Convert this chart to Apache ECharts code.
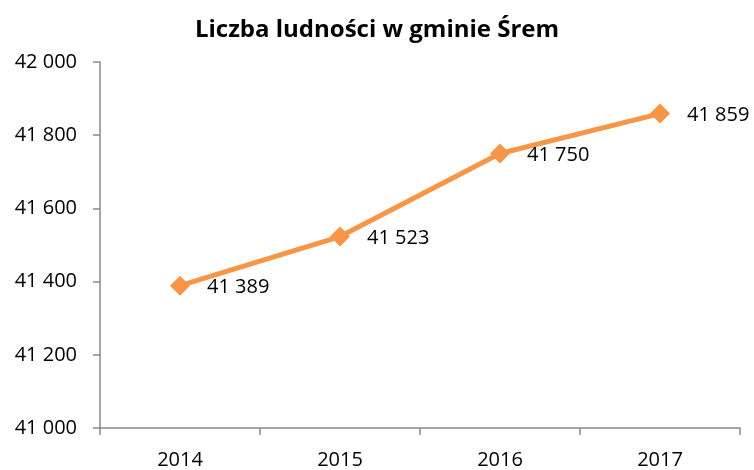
<!DOCTYPE html>
<html><head><meta charset="utf-8">
<script src="https://cdn.jsdelivr.net/npm/echarts@6/dist/echarts.min.js"></script>
<style>html,body{margin:0;padding:0;background:#fff}#c{width:754px;height:470px}</style>
</head><body><div id="c"></div>
<script>
const categories = ['2014', '2015', '2016', '2017'];
const population = [41389, 41523, 41750, 41859];
const fmt = v => String(v).replace(/\B(?=(\d{3})+(?!\d))/g, ' ');
const chart = echarts.init(document.getElementById('c'));
chart.setOption({
  animation: false,
  backgroundColor: '#fff',
  title: {
    text: 'Liczba ludności w gminie Śrem',
    left: 'center', top: 13,
    textStyle: { fontFamily: 'Open Sans', fontWeight: 'bold', fontSize: 24, color: '#000' }
  },
  grid: { left: 100, right: 14, top: 62, bottom: 42 },
  xAxis: {
    type: 'category', data: categories, boundaryGap: true,
    axisLine: { lineStyle: { color: '#898989', width: 1.5 } },
    axisTick: { show: true, length: 7, lineStyle: { color: '#898989', width: 1.5 } },
    axisLabel: { margin: 22, fontFamily: 'Open Sans', fontSize: 20, color: '#000' }
  },
  yAxis: {
    type: 'value', min: 41000, max: 42000, interval: 200,
    axisLine: { show: true, lineStyle: { color: '#898989', width: 1.5 } },
    axisTick: { show: true, length: 7, lineStyle: { color: '#898989', width: 1.5 } },
    splitLine: { show: false },
    axisLabel: { margin: 23, fontFamily: 'Open Sans', fontSize: 20, color: '#000', formatter: fmt }
  },
  series: [{
    type: 'line', data: population,
    symbol: 'diamond', symbolSize: 20,
    lineStyle: { color: '#F79646', width: 5 },
    itemStyle: { color: '#F79646' },
    label: { show: true, position: 'right', distance: 17, fontFamily: 'Open Sans', fontSize: 20, color: '#000', formatter: p => fmt(p.value), offset: [0, 2] }
  }]
});
</script></body></html>
